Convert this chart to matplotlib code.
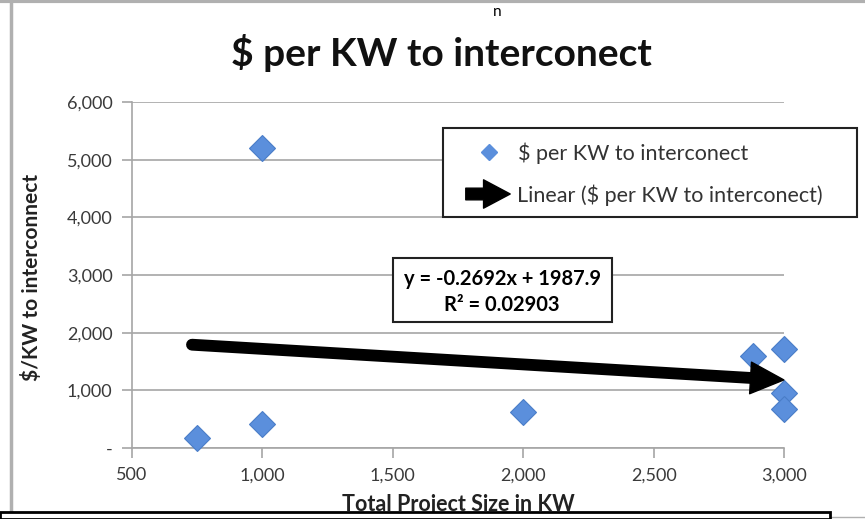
import matplotlib
matplotlib.use("Agg")
import matplotlib.pyplot as plt
from matplotlib.patches import Rectangle, FancyArrowPatch
from matplotlib.lines import Line2D
from matplotlib.ticker import FuncFormatter

plt.rcParams['font.family'] = ['Lato', 'DejaVu Sans']

# data
project_kw = [750, 1000, 1000, 2000, 2880, 3000, 3000, 3000]
cost_per_kw = [180, 5200, 420, 630, 1600, 1720, 950, 680]
slope = -0.2692
intercept = 1987.9
r_squared = 0.02903

x_ticks = [500, 1000, 1500, 2000, 2500, 3000]
y_ticks = [0, 1000, 2000, 3000, 4000, 5000, 6000]

W, H = 865, 519
fig = plt.figure(figsize=(W / 100, H / 100), dpi=100)


def fx(px):
    return px / W


def fy(py):
    return 1 - py / H


ax = fig.add_axes([fx(132), fy(448), fx(784) - fx(132), fy(102) - fy(448)])

grey = '#a6a6a6'
ax.set_xlim(500, 3000)
ax.set_ylim(0, 6000)
ax.set_xticks(x_ticks)
ax.set_yticks(y_ticks)
ax.xaxis.set_major_formatter(FuncFormatter(lambda v, p: f"{int(v):,}"))
ax.yaxis.set_major_formatter(FuncFormatter(lambda v, p: "-" if v == 0 else f"{int(v):,}"))
ax.grid(axis='y', color=grey, linewidth=1.2)
ax.set_axisbelow(True)
for s in ['top', 'right']:
    ax.spines[s].set_visible(False)
for s in ['left', 'bottom']:
    ax.spines[s].set_color(grey)
    ax.spines[s].set_linewidth(1.2)
ax.tick_params(colors=grey, length=7, width=1.2, labelcolor='#3a3a3a', labelsize=13, pad=7)

# scatter points
ax.plot(project_kw, cost_per_kw, linestyle='none', marker='D', ms=13,
        color='#5b8fdc', markeredgecolor='#4a7dc8', markeredgewidth=0.8, zorder=3,
        clip_on=False)

# linear trendline drawn as a thick arrow
x0, x1 = min(project_kw), max(project_kw)
xs = x0 - 20
xe = x1 + 10
ax.plot([xs, xe - 120], [slope * xs + intercept, slope * (xe - 120) + intercept],
        color='black', linewidth=8.5, solid_capstyle='round', zorder=4, clip_on=False)
ax.add_patch(FancyArrowPatch((xe - 140, slope * (xe - 140) + intercept),
                             (xe, slope * xe + intercept),
                             arrowstyle='simple,head_width=1.9,head_length=2.0,tail_width=0.7',
                             mutation_scale=12, color='black', zorder=4, clip_on=False))

ax.set_xlabel('Total Project Size in KW', fontsize=15.5, fontweight='bold', va='top',
              color='#222222')
ax.xaxis.set_label_coords(0.5, -0.133)
ax.set_ylabel('$/KW to interconnect', fontsize=15, fontweight='bold', ha='center', va='top',
              color='#222222')
ax.yaxis.set_label_coords(-0.17, 0.494)

fig.text(fx(441), fy(53), '$ per KW to interconect', fontsize=28, fontweight='bold',
         ha='center', va='center', color='#111111')
fig.text(fx(497), fy(12), 'n', fontsize=11, ha='center', va='center')

# equation box
fig.patches.append(Rectangle((fx(393), fy(322)), fx(612) - fx(393), fy(258) - fy(322),
                             transform=fig.transFigure, facecolor='white',
                             edgecolor='#222222', linewidth=1.5, zorder=5))
fig.text(fx(502), fy(279), f'y = {slope}x + {intercept}', fontsize=14.5, fontweight='bold',
         ha='center', va='center', zorder=6)
fig.text(fx(502), fy(305), f'R\u00b2 = {r_squared}', fontsize=14.5, fontweight='bold',
         ha='center', va='center', zorder=6)

# legend box
fig.patches.append(Rectangle((fx(443), fy(217)), fx(857) - fx(443), fy(128) - fy(217),
                             transform=fig.transFigure, facecolor='white',
                             edgecolor='#222222', linewidth=1.5, zorder=5))
fig.lines.append(Line2D([fx(489)], [fy(152)], transform=fig.transFigure, marker='D', ms=8,
                        color='#5b8fdc', linestyle='none', zorder=6))
fig.text(fx(518), fy(153), '$ per KW to interconect', fontsize=15.5, ha='left', va='center',
         color='#333333', zorder=6)
fig.patches.append(FancyArrowPatch((fx(463), fy(194)), (fx(513), fy(194)),
                                   transform=fig.transFigure,
                                   arrowstyle='simple,head_width=1.7,head_length=1.6,tail_width=0.7',
                                   mutation_scale=12, color='black', zorder=6))
fig.text(fx(517), fy(195), 'Linear ($ per KW to interconect)', fontsize=15.5, ha='left',
         va='center', color='#333333', zorder=6)

# screenshot frame lines
fig.lines.append(Line2D([fx(11), fx(11)], [fy(0), fy(512)], transform=fig.transFigure,
                        color='#b0b0b0', linewidth=2.5))
fig.lines.append(Line2D([0, 1], [fy(1), fy(1)], transform=fig.transFigure,
                        color='#b0b0b0', linewidth=3))
fig.patches.append(Rectangle((fx(0), fy(519)), fx(830), fy(512) - fy(519),
                             transform=fig.transFigure, facecolor='white',
                             edgecolor='black', linewidth=2, zorder=7))
fig.lines.append(Line2D([fx(830), 1], [fy(517), fy(517)], transform=fig.transFigure,
                        color='#b0b0b0', linewidth=1))

fig.savefig('out.png', dpi=100)
